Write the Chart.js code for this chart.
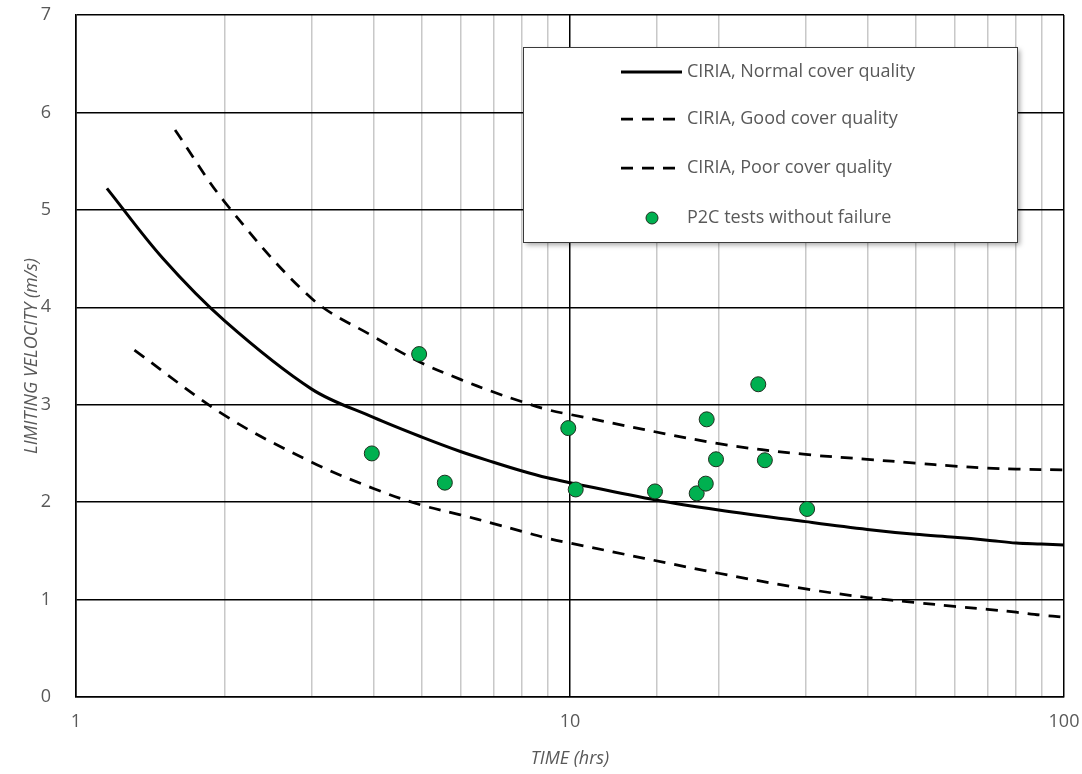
<!DOCTYPE html>
<html>
<head>
<meta charset="utf-8">
<script src="https://cdn.jsdelivr.net/npm/chart.js@4.4.0/dist/chart.umd.min.js"></script>
<style>
  html, body { margin: 0; padding: 0; background: #fff; }
  #wrap { width: 1082px; height: 774px; }
</style>
</head>
<body>
<div id="wrap"><canvas id="velocityChart" width="1082" height="774"></canvas></div>
<script>
// CIRIA curves (time in hrs, limiting velocity in m/s)
const normalTime = [1.155, 1.5, 2, 3, 4, 5, 6, 7, 8, 9, 10, 15, 20, 30, 40, 50, 60, 70, 80, 90, 100];
const normalVel  = [5.22, 4.50, 3.86, 3.16, 2.87, 2.67, 2.52, 2.41, 2.32, 2.25, 2.20, 2.02, 1.92, 1.80, 1.72, 1.67, 1.64, 1.61, 1.58, 1.57, 1.56];

const goodTime = [1.587, 2, 3, 4, 5, 6, 7, 8, 9, 10, 20, 30, 40, 50, 60, 70, 80, 100];
const goodVel  = [5.82, 5.08, 4.09, 3.70, 3.43, 3.26, 3.13, 3.03, 2.95, 2.90, 2.60, 2.49, 2.44, 2.40, 2.37, 2.35, 2.34, 2.33];

const poorTime = [1.313, 2, 3, 4, 5, 6, 7, 8, 9, 10, 20, 30, 40, 50, 60, 70, 80, 90, 100];
const poorVel  = [3.56, 2.89, 2.41, 2.14, 1.97, 1.87, 1.78, 1.70, 1.63, 1.58, 1.27, 1.11, 1.02, 0.97, 0.93, 0.90, 0.87, 0.84, 0.82];

// P2C tests without failure
const testTime = [3.97, 4.95, 5.58, 9.92, 10.27, 14.86, 18.05, 18.83, 18.91, 19.75, 24.05, 24.8, 30.2];
const testVel  = [2.50, 3.52, 2.20, 2.76, 2.13, 2.11, 2.09, 2.19, 2.85, 2.44, 3.21, 2.43, 1.93];

const xLabels = [1, 10, 100];

const toPoints = (xs, ys) => xs.map((x, i) => ({ x: x, y: ys[i] }));
const textColor = '#595959';
const isDecade = v => Math.abs(Math.log10(v) - Math.round(Math.log10(v))) < 1e-6;

// legend box drawn inside the plot, like the original
const boxLegend = {
  id: 'boxLegend',
  afterDatasetsDraw(chart) {
    const ctx = chart.ctx;
    const a = chart.chartArea;
    const x = a.left + 447, y = a.top + 32, w = 494, h = 195;
    const rows = [25, 72, 121, 171];
    ctx.save();
    ctx.shadowColor = 'rgba(0,0,0,0.35)';
    ctx.shadowBlur = 5;
    ctx.shadowOffsetX = 3;
    ctx.shadowOffsetY = 3;
    ctx.fillStyle = '#fff';
    ctx.fillRect(x, y, w, h);
    ctx.shadowColor = 'transparent';
    ctx.strokeStyle = '#3a3a3a';
    ctx.lineWidth = 1;
    ctx.strokeRect(x + 0.5, y + 0.5, w, h);

    chart.data.datasets.forEach((ds, i) => {
      const cy = y + rows[i];
      if (ds.showLine) {
        ctx.beginPath();
        ctx.setLineDash(ds.borderDash || []);
        ctx.lineWidth = ds.borderWidth;
        ctx.strokeStyle = ds.borderColor;
        ctx.moveTo(x + 98, cy);
        ctx.lineTo(x + 159, cy);
        ctx.stroke();
        ctx.setLineDash([]);
      } else {
        ctx.beginPath();
        ctx.arc(x + 129, cy, 6, 0, Math.PI * 2);
        ctx.fillStyle = ds.backgroundColor;
        ctx.fill();
        ctx.lineWidth = 1;
        ctx.strokeStyle = ds.borderColor;
        ctx.stroke();
      }
      ctx.fillStyle = textColor;
      ctx.font = '18px "Open Sans"';
      ctx.textBaseline = 'middle';
      ctx.fillText(ds.label, x + 164, cy);
    });
    ctx.restore();
  }
};

new Chart(document.getElementById('velocityChart'), {
  type: 'scatter',
  data: {
    datasets: [
      {
        label: 'CIRIA, Normal cover quality',
        data: toPoints(normalTime, normalVel),
        showLine: true,
        borderColor: '#000',
        borderWidth: 3,
        pointRadius: 0,
        tension: 0.35,
        order: 3
      },
      {
        label: 'CIRIA, Good cover quality',
        data: toPoints(goodTime, goodVel),
        showLine: true,
        borderColor: '#000',
        borderWidth: 2.75,
        borderDash: [12, 9],
        pointRadius: 0,
        tension: 0.35,
        order: 2
      },
      {
        label: 'CIRIA, Poor cover quality',
        data: toPoints(poorTime, poorVel),
        showLine: true,
        borderColor: '#000',
        borderWidth: 2.75,
        borderDash: [12, 9],
        pointRadius: 0,
        tension: 0.35,
        order: 1
      },
      {
        label: 'P2C tests without failure',
        data: toPoints(testTime, testVel),
        showLine: false,
        backgroundColor: '#00b050',
        borderColor: '#1f2f1f',
        borderWidth: 1,
        pointRadius: 7.5,
        order: 0
      }
    ]
  },
  options: {
    responsive: false,
    animation: false,
    layout: { padding: { top: 15, right: 18, left: 0, bottom: 0 } },
    plugins: {
      legend: { display: false },
      tooltip: { enabled: false }
    },
    scales: {
      x: {
        type: 'logarithmic',
        position: 'bottom',
        min: 1,
        max: 100,
        afterFit: s => { s.height = 77; s.paddingLeft = 0; s.paddingRight = 0; },
        ticks: {
          autoSkip: false,
          maxRotation: 0,
          padding: 14,
          color: textColor,
          font: { family: 'Open Sans', size: 18 },
          callback: v => xLabels.includes(v) ? String(v) : ''
        },
        grid: {
          drawTicks: false,
          color: c => isDecade(c.tick.value) ? '#000' : '#c8c8c8',
          lineWidth: 1.5
        },
        border: { color: '#000', width: 1.5 },
        title: {
          display: true,
          text: 'TIME (hrs)',
          color: textColor,
          font: { family: 'Open Sans', size: 18, style: 'italic' },
          padding: { top: 0, bottom: 4 }
        }
      },
      y: {
        min: 0,
        max: 7,
        afterFit: s => { s.width = 76; s.paddingTop = 0; s.paddingBottom = 0; },
        ticks: {
          stepSize: 1,
          padding: 25,
          color: textColor,
          font: { family: 'Open Sans', size: 18 }
        },
        grid: { drawTicks: false, color: '#000', lineWidth: 1.5 },
        border: { color: '#000', width: 1.5 },
        title: {
          display: true,
          text: 'LIMITING VELOCITY (m/s)',
          color: textColor,
          font: { family: 'Open Sans', size: 18, style: 'italic' },
          padding: { top: 21, bottom: 0 }
        }
      }
    }
  },
  plugins: [boxLegend]
});
</script>
</body>
</html>
